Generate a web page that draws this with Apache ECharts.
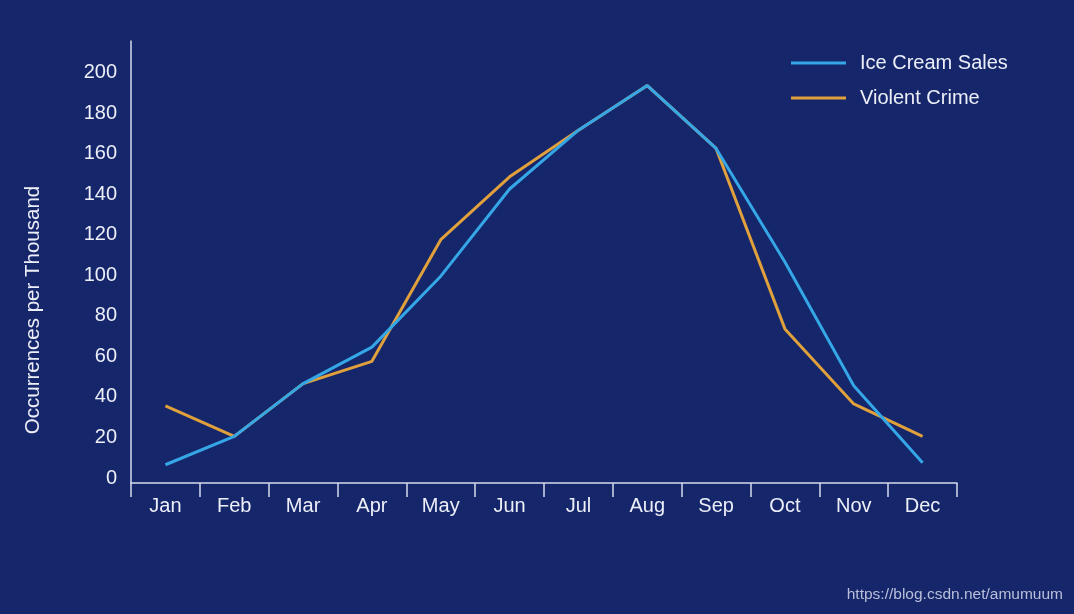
<!DOCTYPE html>
<html>
<head>
<meta charset="utf-8">
<style>
  html, body { margin: 0; padding: 0; background: #15266b; }
  #chart { width: 1074px; height: 614px; }
</style>
<script src="https://cdn.jsdelivr.net/npm/echarts@6/dist/echarts.min.js"></script>
</head>
<body>
<div id="chart"></div>
<script>
const months = ['Jan','Feb','Mar','Apr','May','Jun','Jul','Aug','Sep','Oct','Nov','Dec'];
const iceCreamSales = [9, 23, 49, 67, 102, 145, 174, 196, 165, 109, 48, 10];
const violentCrime = [38, 23, 49, 60, 120, 151, 174, 196, 165, 76, 39, 23];
const yTicks = [0, 20, 40, 60, 80, 100, 120, 140, 160, 180, 200];

const axisColor = '#d6dbf0';
const textColor = '#eceef8';
const font = "'Liberation Sans', Arial, sans-serif";

const chart = echarts.init(document.getElementById('chart'));
chart.setOption({
  backgroundColor: '#15266b',
  animation: false,
  grid: { left: 131, right: 117, top: 41, bottom: 131, containLabel: false },
  legend: {
    orient: 'vertical',
    left: 786,
    top: 46,
    itemWidth: 55,
    itemHeight: 3,
    itemGap: 11,
    icon: 'rect',
    data: ['Ice Cream Sales', 'Violent Crime'],
    textStyle: { color: textColor, fontSize: 20, fontFamily: font, lineHeight: 24, padding: [0, 0, 0, 9] }
  },
  xAxis: {
    type: 'category',
    data: months,
    boundaryGap: true,
    axisLine: { lineStyle: { color: axisColor, width: 1.5 } },
    axisTick: { show: true, interval: 0, length: 14, lineStyle: { color: axisColor, width: 1.5 } },
    axisLabel: { color: textColor, fontSize: 20, fontFamily: font, margin: 13, interval: 0 },
    splitLine: { show: false }
  },
  yAxis: {
    type: 'value',
    min: 0,
    max: 218,
    interval: 20,
    axisLine: { show: true, lineStyle: { color: axisColor, width: 1.5 } },
    axisTick: { show: false },
    splitLine: { show: false },
    axisLabel: {
      color: textColor, fontSize: 20, fontFamily: font, margin: 14,
      verticalAlign: 'bottom',
      lineHeight: 10,
      showMaxLabel: false,
      formatter: function (v) { return yTicks.indexOf(v) >= 0 ? String(v) : ''; }
    }
  },
  series: [
    {
      name: 'Violent Crime',
      type: 'line',
      data: violentCrime,
      symbol: 'none',
      z: 2,
      lineStyle: { color: '#e0a03c', width: 3 },
      itemStyle: { color: '#e0a03c' }
    },
    {
      name: 'Ice Cream Sales',
      type: 'line',
      data: iceCreamSales,
      symbol: 'none',
      z: 3,
      lineStyle: { color: '#35a6e6', width: 3 },
      itemStyle: { color: '#35a6e6' }
    }
  ],
  graphic: [
    {
      type: 'text',
      x: 33,
      y: 310,
      rotation: Math.PI / 2,
      style: {
        text: 'Occurrences per Thousand',
        fill: textColor,
        font: "20.5px 'Liberation Sans', Arial, sans-serif",
        textAlign: 'center',
        textVerticalAlign: 'middle'
      }
    },
    {
      type: 'text',
      x: 1063,
      y: 595,
      style: {
        text: 'https://blog.csdn.net/amumuum',
        fill: '#b9bfd9',
        font: "15.5px 'Liberation Sans', Arial, sans-serif",
        textAlign: 'right',
        textVerticalAlign: 'middle'
      }
    }
  ]
});
</script>
</body>
</html>
